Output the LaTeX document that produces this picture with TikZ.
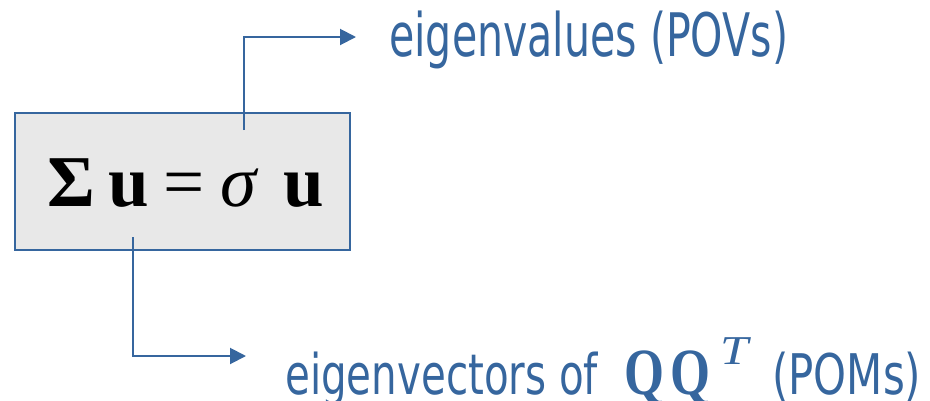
\documentclass[tikz,border=0pt]{standalone}
\usepackage{fontspec}
\setmainfont{DejaVu Sans}
\newfontfamily\serifQ{Liberation Serif}
\usetikzlibrary{arrows.meta}
\definecolor{pblue}{RGB}{54,102,158}
\definecolor{boxgray}{RGB}{232,232,232}
\tikzset{
  eqbox/.style={draw=pblue, line width=2.6pt, fill=boxgray, minimum width=335pt, minimum height=137pt, inner sep=0pt},
  conn/.style={draw=pblue, line width=2pt, -{Triangle[length=16pt,width=16pt]}},
  lbl/.style={text=pblue, inner sep=0pt, anchor=base west}
}
\begin{document}
\begin{tikzpicture}[x=1pt,y=-1pt]
\useasboundingbox (0,0) rectangle (930,400);
\node[eqbox] (box) at (182.5,181.5) {};
\node[inner sep=0pt, anchor=base west] (eq) at (47,206) {\serifQ\fontsize{73pt}{80pt}\selectfont
  \makebox[61pt][l]{\bfseries Σ}\makebox[55pt][l]{\bfseries u}\makebox[57pt][l]{=}\makebox[63pt][l]{\itshape σ}{\bfseries u}};
\node[lbl] (evals) at (389,56) {\fontsize{60pt}{66pt}\selectfont\resizebox{399pt}{\height}{eigenvalues (POVs)}};
\node[lbl] (evecs) at (285,394) {\fontsize{56pt}{60pt}\selectfont\resizebox{313pt}{\height}{eigenvectors of}\hspace{26pt}\resizebox{40pt}{\height}{\serifQ\fontsize{66pt}{70pt}\selectfont\bfseries Q}\hspace{6pt}\resizebox{40pt}{\height}{\serifQ\fontsize{66pt}{70pt}\selectfont\bfseries Q}\hspace{10pt}\raisebox{30pt}{\resizebox{28pt}{\height}{\serifQ\fontsize{41pt}{44pt}\selectfont\itshape T}}\hspace{24pt}\resizebox{149pt}{\height}{(POMs)}};
\coordinate (s1) at (244,130);
\coordinate (c1) at (244,37);
\coordinate (e1) at (356,37);
\coordinate (s2) at (133,237);
\coordinate (c2) at (133,356);
\coordinate (e2) at (246,356);
\draw[conn] (s1) -- (c1) -- (e1);
\draw[conn] (s2) -- (c2) -- (e2);
\end{tikzpicture}
\end{document}
